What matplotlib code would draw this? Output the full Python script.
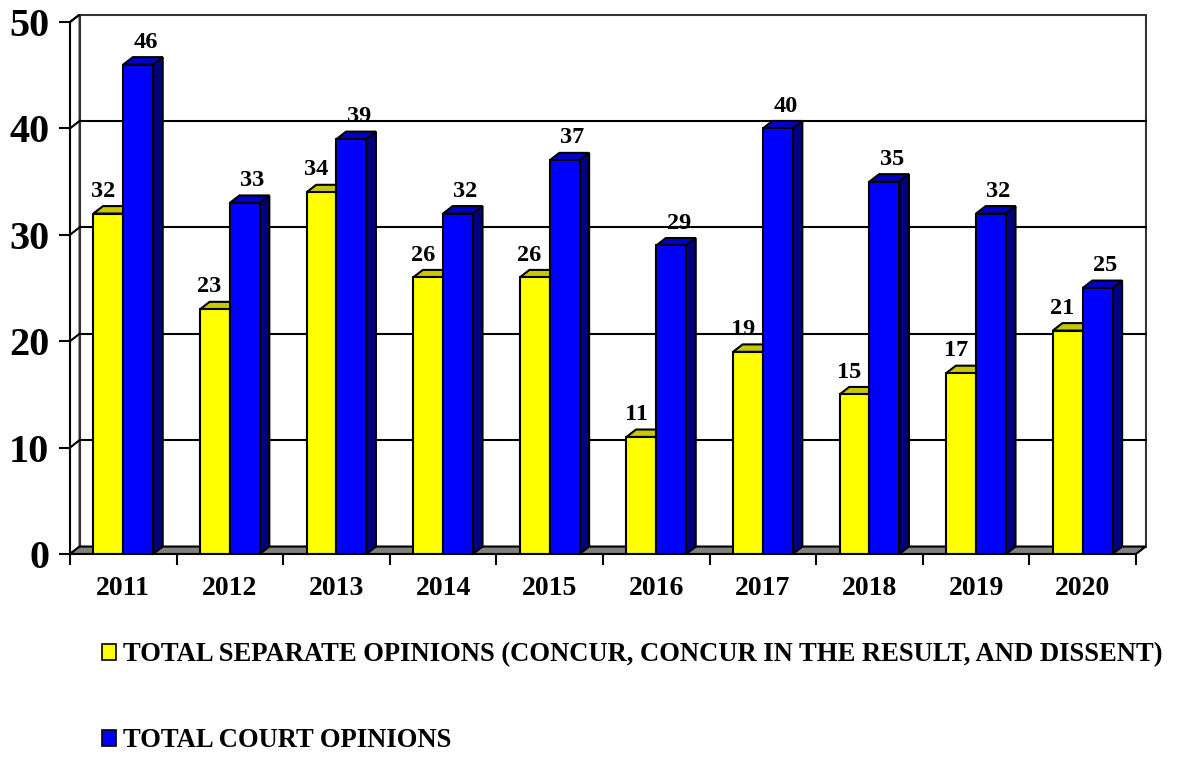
import numpy as np
import matplotlib
matplotlib.use("Agg")
import matplotlib.pyplot as plt
from matplotlib.patches import Polygon, Rectangle, Patch

# data
years = ['2011', '2012', '2013', '2014', '2015', '2016', '2017', '2018', '2019', '2020']
separate_opinions = [32, 23, 34, 26, 26, 11, 19, 15, 17, 21]
court_opinions = [46, 33, 39, 32, 37, 29, 40, 35, 32, 25]
series_names = ['TOTAL SEPARATE OPINIONS (CONCUR, CONCUR IN THE RESULT, AND DISSENT)',
                'TOTAL COURT OPINIONS']

plt.rcParams['font.family'] = ['Liberation Serif', 'DejaVu Serif']
plt.rcParams['font.weight'] = 'bold'

fig = plt.figure(figsize=(11.82, 7.59), dpi=100)
ax = fig.add_axes([0.0592, 0.2701, 0.9109, 0.7121])
ax.set_xlim(0, 10.1)
ax.set_ylim(0, 50.8)

# fake 3d depth (data units)
dx, dy = 0.09, 0.7
w = 0.28
n = len(years)
edge = dict(edgecolor='black', linewidth=1.5)

# side wall + back wall
ax.add_patch(Polygon([(0, 0), (dx, dy), (dx, 50 + dy), (0, 50)], closed=True,
                     facecolor='white', edgecolor='#333333', linewidth=1.5, zorder=1))
ax.add_patch(Rectangle((dx, dy), n, 50, facecolor='white',
                       edgecolor='#333333', linewidth=1.5, zorder=1))
for g in range(10, 50, 10):
    ax.plot([dx, n + dx], [g + dy, g + dy], color='black', lw=1.5, zorder=2)
    ax.plot([0, dx], [g, g + dy], color='black', lw=1.5, zorder=2)
ax.plot([0, dx], [50, 50 + dy], color='black', lw=1.5, zorder=2)

# floor
ax.add_patch(Polygon([(0, 0), (n, 0), (n + dx, dy), (dx, dy)], closed=True,
                     facecolor='#808080', zorder=3, **edge))

def bar3d(x0, v, front, top, side):
    x1 = x0 + w
    ax.add_patch(Polygon([(x1, 0), (x1 + dx, dy), (x1 + dx, v + dy), (x1, v)],
                         closed=True, facecolor=side, zorder=4, **edge))
    ax.add_patch(Polygon([(x0, v), (x1, v), (x1 + dx, v + dy), (x0 + dx, v + dy)],
                         closed=True, facecolor=top, zorder=4, **edge))
    ax.add_patch(Rectangle((x0, 0), w, v, facecolor=front, zorder=5, **edge))

lab_off = 2.1
for i in range(n):
    c = i + 0.5
    bar3d(c - w, separate_opinions[i], '#FFFF00', '#C8C800', '#9C9C00')
    bar3d(c, court_opinions[i], '#0000FF', '#0000C8', '#000080')
    ax.text(c - w / 2 - 0.05, separate_opinions[i] + lab_off, str(separate_opinions[i]),
            ha='center', va='center', fontsize=17.5, fontweight='bold', zorder=6)
    ax.text(c + w / 2 + 0.07, court_opinions[i] + lab_off, str(court_opinions[i]),
            ha='center', va='center', fontsize=17.5, fontweight='bold', zorder=6)

# axes
for s in ['top', 'right']:
    ax.spines[s].set_visible(False)
ax.spines['left'].set_bounds(0, 50)
ax.spines['bottom'].set_bounds(0, n)
ax.spines['left'].set_linewidth(1.5)
ax.spines['bottom'].set_linewidth(1.5)
ax.spines['left'].set_zorder(7)
ax.spines['bottom'].set_zorder(7)

ax.set_yticks(range(0, 51, 10))
ax.set_yticklabels([str(t) for t in range(0, 51, 10)], fontsize=29, fontweight='bold')
ax.tick_params(axis='y', length=8, width=1.5, pad=7)

ax.set_xticks(np.arange(0, n + 1))
ax.set_xticklabels([])
ax.set_xticks(np.arange(n) + 0.5, minor=True)
ax.set_xticklabels(years, minor=True, fontsize=20, fontweight='bold')
ax.tick_params(axis='x', which='major', length=8, width=1.5)
ax.tick_params(axis='x', which='minor', length=0, pad=16)

handles = [Patch(facecolor='#FFFF00', edgecolor='black', linewidth=1.2),
           Patch(facecolor='#0000FF', edgecolor='black', linewidth=1.2)]
fig.legend(handles, series_names, loc='upper left', bbox_to_anchor=(0.086, 0.154),
           frameon=False, prop={'size': 19.2, 'weight': 'bold'},
           handlelength=0.55, handleheight=0.55, handletextpad=0.25, labelspacing=2.3,
           borderaxespad=0, borderpad=0)

fig.savefig('out.png', dpi=100)
